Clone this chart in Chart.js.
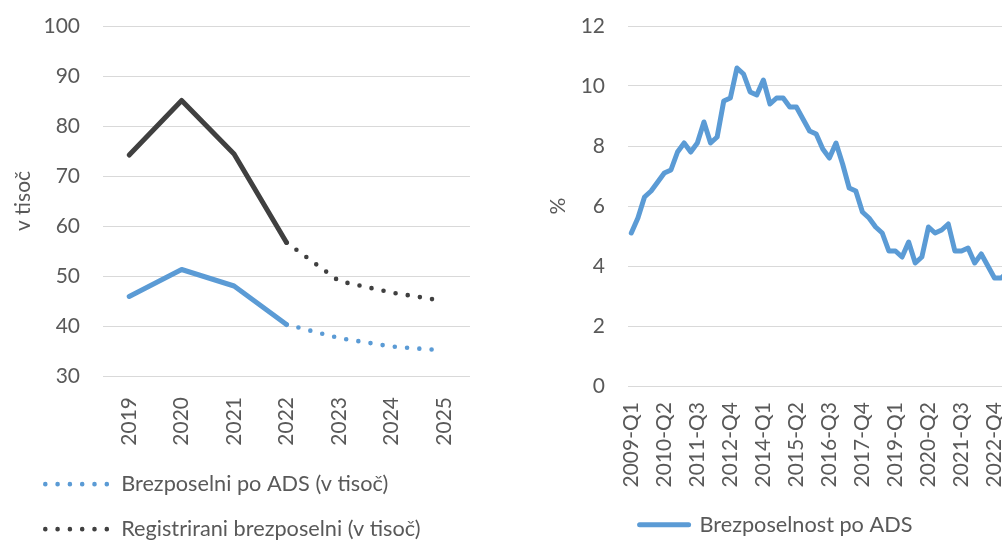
<!DOCTYPE html>
<html>
<head>
<meta charset="utf-8">
<script src="https://cdn.jsdelivr.net/npm/chart.js@4"></script>
<style>
  html, body { margin: 0; padding: 0; background: #fff; }
  body { width: 1002px; height: 540px; overflow: hidden; position: relative; }
  #left { position: absolute; left: 0; top: 0; }
  #right { position: absolute; left: 530px; top: 0; }
</style>
</head>
<body>
<canvas id="left" width="480" height="560"></canvas>
<canvas id="right" width="491" height="560"></canvas>
<script>
// --- left chart: unemployed in thousands, 2022+ is forecast (dotted) ---
const years = ['2019', '2020', '2021', '2022', '2023', '2024', '2025'];
const adsThousands = [45.9, 51.3, 48.0, 40.3, 37.6, 35.9, 35.1];
const registeredThousands = [74.2, 85.1, 74.4, 56.7, 49.0, 46.7, 45.0];
const forecastFrom = 3; // index of 2022, dotted after this point

// --- right chart: ADS unemployment rate, quarterly from 2009-Q1 ---
const firstYear = 2009;
const adsRate = [
  5.1, 5.6, 6.3, 6.5, 6.8, 7.1, 7.2, 7.8, 8.1, 7.8,
  8.1, 8.8, 8.1, 8.3, 9.5, 9.6, 10.6, 10.4, 9.8, 9.7,
  10.2, 9.4, 9.6, 9.6, 9.3, 9.3, 8.9, 8.5, 8.4, 7.9,
  7.6, 8.1, 7.4, 6.6, 6.5, 5.8, 5.6, 5.3, 5.1, 4.5,
  4.5, 4.3, 4.8, 4.1, 4.3, 5.3, 5.1, 5.2, 5.4, 4.5,
  4.5, 4.6, 4.1, 4.4, 4.0, 3.6, 3.6, 3.8
];
const quarters = adsRate.map((_, i) => (firstYear + Math.floor(i / 4)) + '-Q' + (i % 4 + 1));

const BLUE = '#5B9BD5';
const DARK = '#404040';
const TEXT = '#595959';
const GRID = '#D9D9D9';

Chart.defaults.font.family = 'Lato';
Chart.defaults.font.size = 21;
Chart.defaults.color = TEXT;

const dotted = [0, 12.3];

function seriesDataset(label, data, color) {
    return {
        label,
        data,
        borderColor: color,
        backgroundColor: color,
        borderWidth: 5,
        borderCapStyle: 'round',
        borderJoinStyle: 'round',
        pointRadius: 0,
        tension: 0,
        segment: {
            borderDash: ctx => ctx.p0DataIndex >= forecastFrom ? dotted : undefined,
            borderWidth: ctx => ctx.p0DataIndex >= forecastFrom ? 4.6 : undefined,
        }
    };
}

// fixed axis boxes so the plot areas land where the reference has them
const fixX = h => s => { s.height = h; s.paddingLeft = 0; s.paddingRight = 0; };
const fixY = w => s => { s.width = w; s.paddingTop = 0; s.paddingBottom = 0; };

new Chart(document.getElementById('left'), {
    type: 'line',
    data: {
        labels: years,
        datasets: [
            seriesDataset('Brezposelni po ADS (v tisoč)', adsThousands, BLUE),
            seriesDataset('Registrirani brezposelni (v tisoč)', registeredThousands, DARK),
        ]
    },
    options: {
        responsive: false,
        animation: false,
        layout: { padding: { left: 22, right: 10, top: 26, bottom: 10 } },
        plugins: {
            tooltip: { enabled: false },
            legend: {
                position: 'bottom',
                align: 'start',
                labels: {
                    usePointStyle: true,
                    pointStyleWidth: 65,
                    padding: 23.3,
                    color: TEXT,
                    font: { size: 21.7 },
                    generateLabels: chart => chart.data.datasets.map((ds, i) => ({
                        text: ds.label,
                        strokeStyle: ds.borderColor,
                        fillStyle: ds.borderColor,
                        lineWidth: 4.6,
                        lineDash: dotted,
                        lineCap: 'round',
                        pointStyle: 'line',
                        datasetIndex: i,
                        hidden: false,
                        fontColor: TEXT,
                    }))
                }
            }
        },
        scales: {
            x: {
                offset: true,
                grid: { display: false },
                border: { display: false },
                ticks: { minRotation: 90, maxRotation: 90, padding: 13 },
                afterFit: fixX(74)
            },
            y: {
                min: 30,
                max: 100,
                ticks: { stepSize: 10, padding: 23 },
                grid: { color: GRID, lineWidth: 1, drawTicks: false },
                border: { display: false },
                title: { display: true, text: 'v tisoč', color: TEXT, font: { size: 21, lineHeight: '2px' }, padding: { top: 0 } },
                afterFit: fixY(81)
            }
        }
    }
});

new Chart(document.getElementById('right'), {
    type: 'line',
    data: {
        labels: quarters,
        datasets: [{
            label: 'Brezposelnost po ADS',
            data: adsRate,
            borderColor: BLUE,
            backgroundColor: BLUE,
            borderWidth: 5,
            borderCapStyle: 'round',
            borderJoinStyle: 'round',
            pointRadius: 0,
            tension: 0,
        }]
    },
    options: {
        responsive: false,
        animation: false,
        layout: { padding: { left: 11, right: 10, top: 26, bottom: 14.5 } },
        plugins: {
            tooltip: { enabled: false },
            legend: {
                position: 'bottom',
                labels: {
                    usePointStyle: true,
                    pointStyleWidth: 49,
                    padding: 10,
                    color: TEXT,
                    font: { size: 21.7 },
                    generateLabels: chart => chart.data.datasets.map((ds, i) => ({
                        text: ds.label,
                        strokeStyle: ds.borderColor,
                        fillStyle: ds.borderColor,
                        lineWidth: 5,
                        lineCap: 'round',
                        pointStyle: 'line',
                        datasetIndex: i,
                        hidden: false,
                        fontColor: TEXT,
                    }))
                }
            }
        },
        scales: {
            x: {
                offset: true,
                grid: { display: false },
                border: { display: false },
                ticks: {
                    autoSkip: false,
                    minRotation: 90,
                    maxRotation: 90,
                    padding: 8,
                    callback: (v, i) => i % 5 === 0 ? quarters[i] : ''
                },
                afterFit: fixX(117.8)
            },
            y: {
                min: 0,
                max: 12,
                ticks: { stepSize: 2, padding: 23 },
                grid: { color: GRID, lineWidth: 1, drawTicks: false },
                border: { display: false },
                title: { display: true, text: '%', color: TEXT, font: { size: 21, lineHeight: '2px' }, padding: { top: 16 } },
                afterFit: fixY(87)
            }
        }
    }
});
</script>
</body>
</html>
